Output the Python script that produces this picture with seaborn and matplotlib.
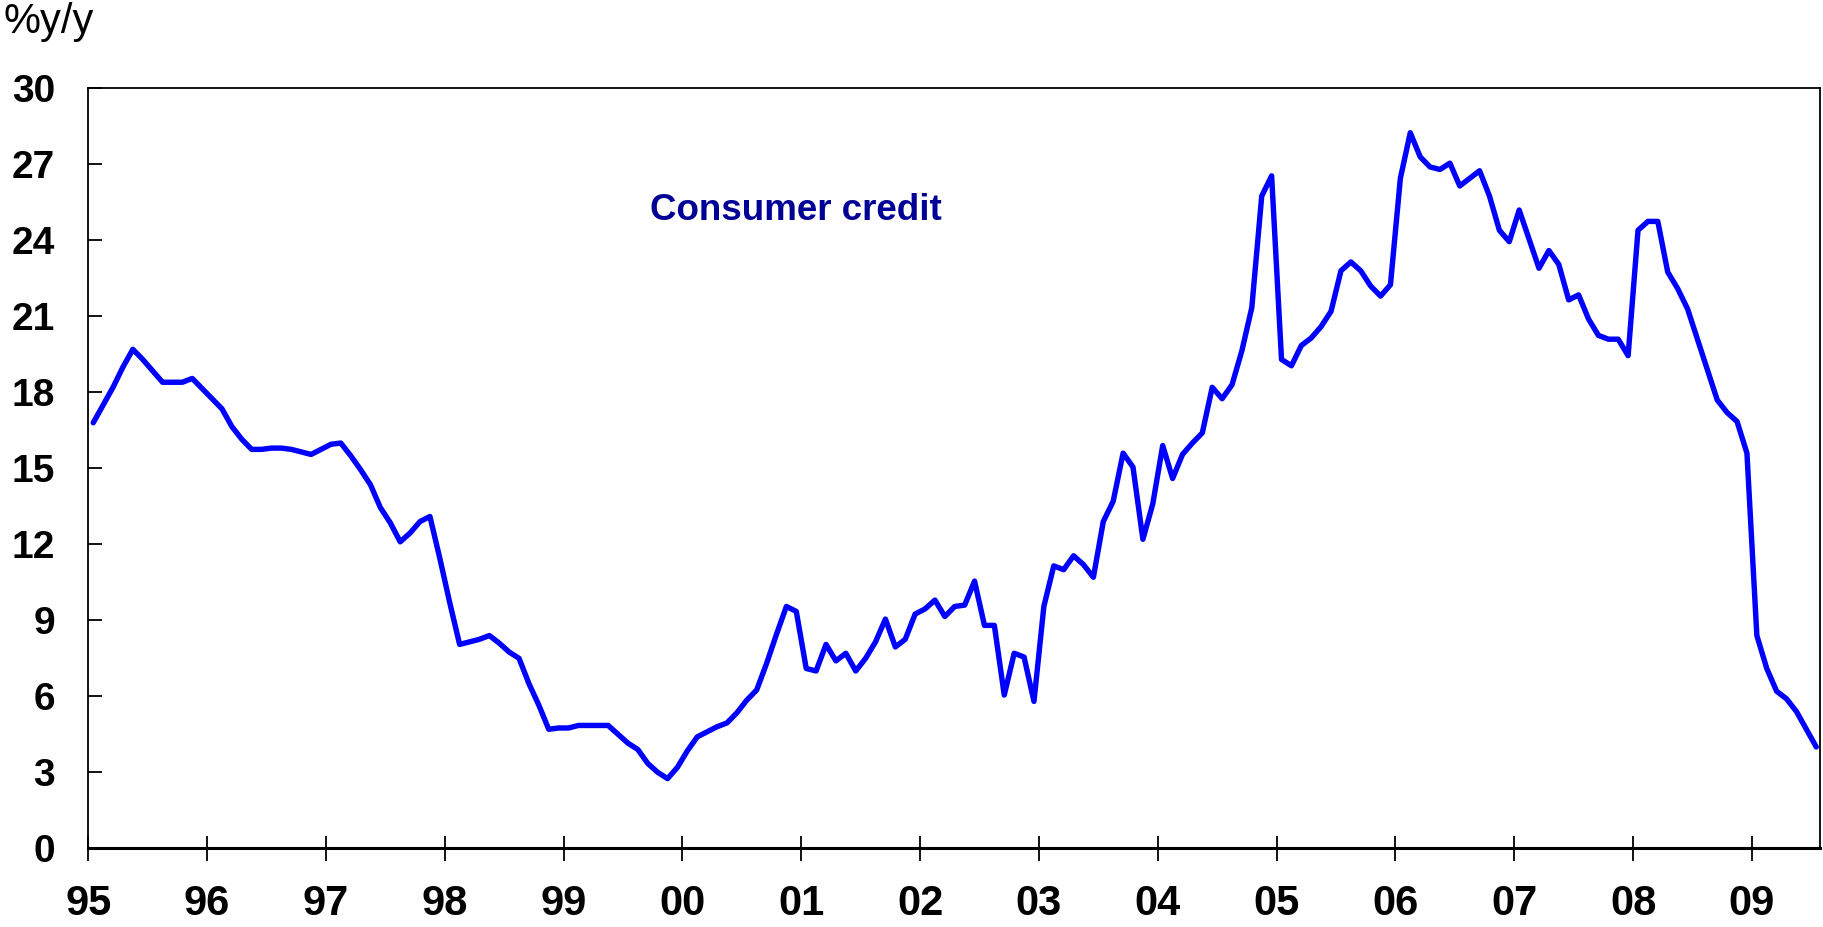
import seaborn as sns
import pandas as pd
import matplotlib.pyplot as plt
import numpy as np

# monthly % y/y, Jan 1995 - Jul 2009
credit_95 = [16.8, 17.5, 18.2, 19.0, 19.7, 19.3, 18.85, 18.4, 18.4, 18.4, 18.55, 18.15]
credit_96 = [17.75, 17.35, 16.65, 16.15, 15.75, 15.75, 15.8, 15.8, 15.75, 15.65, 15.55, 15.75]
credit_97 = [15.95, 16.0, 15.5, 14.95, 14.35, 13.45, 12.85, 12.1, 12.45, 12.9, 13.1, 11.45]
credit_98 = [9.7, 8.05, 8.15, 8.25, 8.4, 8.1, 7.75, 7.5, 6.5, 5.65, 4.7, 4.75]
credit_99 = [4.75, 4.85, 4.85, 4.85, 4.85, 4.5, 4.15, 3.9, 3.35, 3.0, 2.75, 3.2]
credit_00 = [3.85, 4.4, 4.6, 4.8, 4.95, 5.35, 5.85, 6.25, 7.3, 8.45, 9.55, 9.35]
credit_01 = [7.1, 7.0, 8.05, 7.4, 7.7, 7.0, 7.5, 8.15, 9.05, 7.95, 8.25, 9.25]
credit_02 = [9.45, 9.8, 9.15, 9.55, 9.6, 10.55, 8.8, 8.8, 6.05, 7.7, 7.55, 5.8]
credit_03 = [9.55, 11.15, 11.0, 11.55, 11.2, 10.7, 12.9, 13.7, 15.6, 15.05, 12.2, 13.6]
credit_04 = [15.9, 14.6, 15.55, 16.0, 16.4, 18.2, 17.75, 18.3, 19.65, 21.35, 25.75, 26.55]
credit_05 = [19.3, 19.05, 19.85, 20.15, 20.6, 21.2, 22.8, 23.15, 22.8, 22.2, 21.8, 22.25]
credit_06 = [26.45, 28.25, 27.3, 26.9, 26.8, 27.05, 26.15, 26.45, 26.75, 25.75, 24.4, 23.95]
credit_07 = [25.2, 24.05, 22.9, 23.6, 23.05, 21.65, 21.85, 20.9, 20.25, 20.1, 20.1, 19.45]
credit_08 = [24.4, 24.75, 24.75, 22.75, 22.1, 21.3, 20.1, 18.9, 17.7, 17.2, 16.85, 15.6]
credit_09 = [8.4, 7.1, 6.2, 5.9, 5.4, 4.7, 4.0]

years = list(range(1995, 2010))
year_labels = ['95', '96', '97', '98', '99', '00', '01', '02', '03', '04', '05', '06', '07', '08', '09']
y_ticks = [0, 3, 6, 9, 12, 15, 18, 21, 24, 27, 30]

values = (credit_95 + credit_96 + credit_97 + credit_98 + credit_99 + credit_00 + credit_01
          + credit_02 + credit_03 + credit_04 + credit_05 + credit_06 + credit_07 + credit_08 + credit_09)
months = pd.date_range('1995-01-01', periods=len(values), freq='MS')
df = pd.DataFrame({'time': months.year + (months.month - 0.5) / 12, 'credit': values})

sns.set_style('white')
plt.rcParams['font.family'] = ['Liberation Sans', 'DejaVu Sans']
plt.rcParams['text.color'] = 'black'
plt.rcParams['xtick.color'] = 'black'
plt.rcParams['ytick.color'] = 'black'

fig = plt.figure(figsize=(18.24, 9.27), dpi=100)
ax = fig.add_axes([0.0484, 0.0849, 0.9494, 0.8197])

sns.lineplot(data=df, x='time', y='credit', ax=ax, color='#0000FF', linewidth=3.9)

ax.set_xlim(1995, 2009.573)
ax.set_ylim(0, 30)
ax.set_xticks(years)
ax.set_xticklabels(year_labels, fontsize=30, fontweight='bold')
ax.set_yticks(y_ticks)
ax.set_yticklabels([str(t) for t in y_ticks], fontsize=28, fontweight='bold')
ax.tick_params(axis='x', bottom=True, direction='inout', length=18, width=1.3,
               color='black', labelcolor='black', pad=17)
ax.tick_params(axis='y', left=True, direction='in', length=10, width=1.3,
               color='black', labelcolor='black', pad=24)
ax.set_xlabel('')
ax.set_ylabel('')
ax.grid(False)

for side in ['top', 'right', 'left']:
    ax.spines[side].set_color('black')
    ax.spines[side].set_linewidth(1.3)
ax.spines['bottom'].set_color('black')
ax.spines['bottom'].set_linewidth(2.2)

ax.text(1999.73, 24.8, 'Consumer credit', color='#000096', fontsize=26.5,
        fontweight='bold', ha='left', va='baseline')
fig.text(4 / 1824, 1 - 33 / 927, '%y/y', fontsize=30, color='black', ha='left', va='baseline')

plt.savefig('out.png', dpi=100)
